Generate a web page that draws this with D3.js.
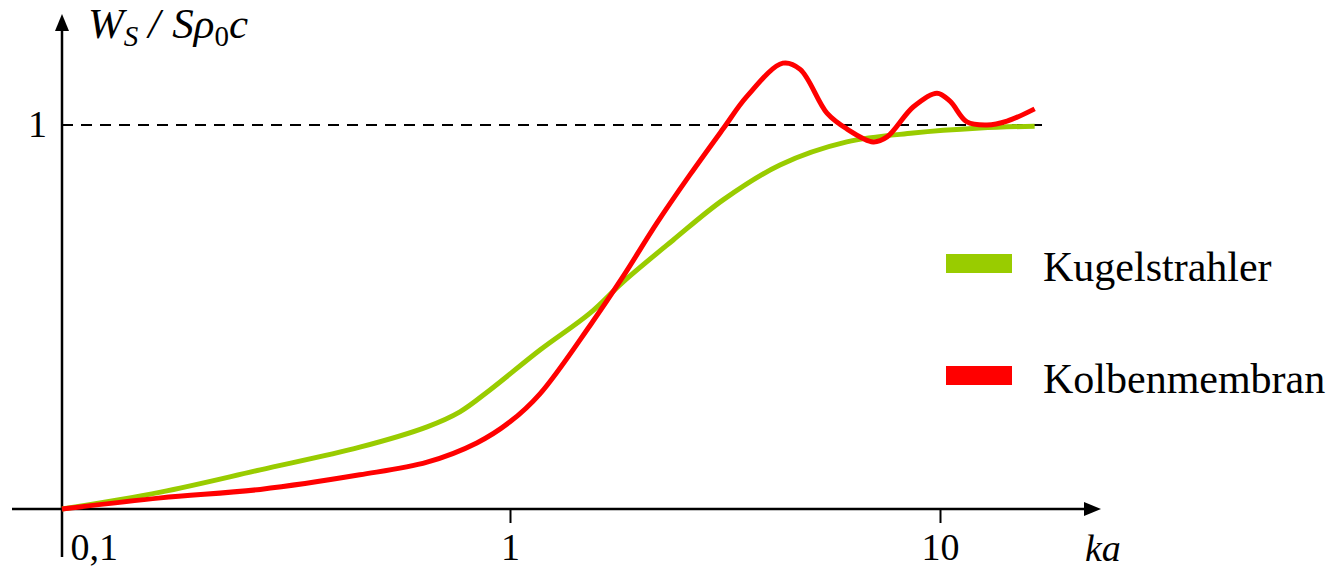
<!DOCTYPE html>
<html>
<head>
<meta charset="utf-8">
<script src="https://cdn.jsdelivr.net/npm/d3@7"></script>
<style>
  body { margin: 0; background: #fff; }
  text { font-family: "Liberation Serif", "Times New Roman", serif; fill: #000; }
</style>
</head>
<body>
<svg width="1334" height="570"></svg>
<script>
// Schallleistung (normiert) ueber ka : Kugelstrahler vs. Kolbenmembran

var seriesNames = ["Kugelstrahler", "Kolbenmembran"];
var seriesColors = ["#99cc00", "#ff0000"];

// values (ka, W_S / S rho0 c)
var kaKugel = [0.1, 0.166, 0.277, 0.462, 0.653, 0.773, 0.902, 1.174, 1.535, 1.831, 2.393, 3.13, 4.245, 6.07, 8.66, 12.39, 16.6];
var wKugel  = [0, 0.044, 0.102, 0.161, 0.214, 0.253, 0.31, 0.414, 0.51, 0.591, 0.7, 0.805, 0.896, 0.956, 0.979, 0.992, 0.997];

var kaKolben = [0.1, 0.166, 0.277, 0.462, 0.653, 0.843, 1.0, 1.174, 1.535, 1.831, 2.197, 2.62, 3.13, 3.56, 4.31, 4.73, 5.46, 6.07, 6.99, 7.53, 8.66, 9.84, 10.55, 11.55, 12.86, 14.32, 16.6];
var wKolben  = [0, 0.029, 0.051, 0.089, 0.122, 0.172, 0.227, 0.3, 0.478, 0.605, 0.745, 0.87, 0.99, 1.075, 1.161, 1.145, 1.031, 0.99, 0.956, 0.969, 1.047, 1.083, 1.062, 1.008, 1.0, 1.01, 1.042];

var xTicks = [0.1, 1, 10];
var xTickLabels = ["0,1", "1", "10"];
var yTicks = [1];
var yTickLabels = ["1"];
var refLevel = 1;
var refEnd = 17.5;

var svg = d3.select("svg");

// log axis, decades as drawn in the sketch
var x = d3.scaleLog().domain([0.1, 1, 10]).range([62, 510, 940]);
var y = d3.scaleLinear().domain([0, 1]).range([509, 125]);

var x0 = x(0.1), y0 = y(0);

// reference line at 1
svg.append("line")
    .attr("x1", x0).attr("x2", x(refEnd))
    .attr("y1", y(refLevel)).attr("y2", y(refLevel))
    .style("stroke", "#000")
    .style("stroke-width", 1.8)
    .style("stroke-dasharray", "11,8");

// axes with arrows
svg.append("line")
    .attr("x1", 12).attr("x2", 1088).attr("y1", y0).attr("y2", y0)
    .style("stroke", "#000").style("stroke-width", 2.5);
svg.append("path")
    .attr("d", "M1101," + y0 + " L1084," + (y0 - 7) + " L1084," + (y0 + 7) + " Z")
    .style("fill", "#000");

svg.append("line")
    .attr("x1", x0).attr("x2", x0).attr("y1", 557).attr("y2", 28)
    .style("stroke", "#000").style("stroke-width", 2.5);
svg.append("path")
    .attr("d", "M" + x0 + ",14 L" + (x0 - 7) + ",31 L" + (x0 + 7) + ",31 Z")
    .style("fill", "#000");

// x ticks
var xAxis = svg.append("g")
    .attr("transform", "translate(0," + y0 + ")")
    .call(d3.axisBottom(x).tickValues(xTicks).tickSize(14)
        .tickFormat(function(d, i) { return xTickLabels[i]; }));
xAxis.select(".domain").remove();
xAxis.selectAll(".tick line").style("stroke", "#000").style("stroke-width", 2)
    .style("display", function(d) { return d === 0.1 ? "none" : null; });
xAxis.selectAll(".tick text")
    .attr("y", 51).attr("dy", null)
    .style("font-family", "Liberation Serif")
    .style("font-size", "38px")
    .attr("text-anchor", function(d) { return d === 0.1 ? "start" : "middle"; })
    .attr("x", function(d) { return d === 0.1 ? 8 : 0; });

// y tick label
svg.selectAll(".ylab").data(yTicks).enter().append("text")
    .attr("class", "ylab")
    .attr("x", 47).attr("y", function(d) { return y(d) + 12; })
    .attr("text-anchor", "end")
    .style("font-size", "38px")
    .text(function(d, i) { return yTickLabels[i]; });

// axis titles
var yt = svg.append("text")
    .attr("x", 88).attr("y", 38)
    .style("font-size", "43px").style("font-style", "italic");
yt.append("tspan").text("W");
yt.append("tspan").attr("dy", 8).style("font-size", "29px").text("S");
yt.append("tspan").attr("dy", -8).attr("dx", 10).text("/");
yt.append("tspan").attr("dx", 12).text("S\u03C1");
yt.append("tspan").attr("dy", 8).style("font-size", "29px").style("font-style", "normal").text("0");
yt.append("tspan").attr("dy", -8).text("c");

svg.append("text")
    .attr("x", 1085).attr("y", 561)
    .style("font-size", "38px").style("font-style", "italic")
    .text("ka");

// curves
var series = [
  d3.zip(kaKugel, wKugel),
  d3.zip(kaKolben, wKolben)
];

var line = d3.line()
    .x(function(d) { return x(d[0]); })
    .y(function(d) { return y(d[1]); })
    .curve(d3.curveCatmullRom.alpha(0.5));

svg.selectAll(".curve").data(series).enter().append("path")
    .attr("class", "curve")
    .attr("d", line)
    .style("fill", "none")
    .style("stroke", function(d, i) { return seriesColors[i]; })
    .style("stroke-width", 5)
    .style("stroke-linejoin", "round");

// legend
var leg = svg.selectAll(".leg").data(seriesNames).enter().append("g")
    .attr("class", "leg")
    .attr("transform", function(d, i) { return "translate(946," + (254 + i * 112) + ")"; });
leg.append("rect")
    .attr("width", 66).attr("height", 19)
    .style("fill", function(d, i) { return seriesColors[i]; });
leg.append("text")
    .attr("x", 97).attr("y", 27)
    .style("font-size", "42px")
    .text(function(d) { return d; });
</script>
</body>
</html>
